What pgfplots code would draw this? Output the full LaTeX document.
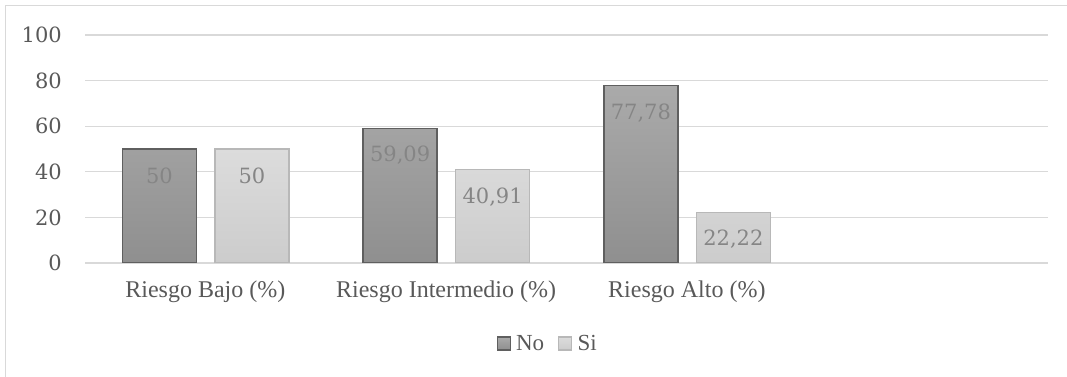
\documentclass[border=0pt]{standalone}
\usepackage{fontspec}
\setmainfont{Liberation Serif}
\newfontfamily\numfont{DejaVu Serif}
\usepackage{pgfplots}
\pgfplotsset{compat=1.18}
\definecolor{gridc}{HTML}{D9D9D9}
\definecolor{tickc}{HTML}{595959}
\definecolor{lblc}{HTML}{858585}
\definecolor{darktop}{HTML}{AAAAAA}
\definecolor{darkbot}{HTML}{8F8F8F}
\definecolor{darkedge}{HTML}{5F5F5F}
\definecolor{lighttop}{HTML}{DCDCDC}
\definecolor{lightbot}{HTML}{CCCCCC}
\definecolor{lightedge}{HTML}{B8B8B8}
\begin{document}
\begin{tikzpicture}
\draw[gridc, line width=1.2pt] (5.5pt,-10pt) rectangle (1080pt,371.5pt);
\begin{axis}[
  at={(85pt,114pt)}, anchor=south west,
  scale only axis, width=963pt, height=228pt,
  xmin=-0.5, xmax=3.5, ymin=0, ymax=100,
  xtick={0,1,2},
  xticklabels={Riesgo Bajo (\%), Riesgo Intermedio (\%), Riesgo Alto (\%)},
  ytick={0,20,40,60,80,100},
  axis line style={draw=none},
  major tick length=0pt,
  tick style={draw=none},
  ymajorgrids, major grid style={gridc, line width=1.3pt},
  xticklabel style={font=\fontsize{24}{27}\selectfont, text=tickc, anchor=base, yshift=-35pt},
  yticklabel style={font=\numfont\fontsize{21}{24}\selectfont, text=tickc, anchor=east, inner sep=0pt, xshift=-23pt},
  /pgf/number format/assume math mode=true,
  ybar, bar width=74pt,
  nodes near coords,
  point meta=y,
  nodes near coords style={font=\numfont\fontsize{21}{24}\selectfont, text=lblc, anchor=center, yshift=-27pt,
    /pgf/number format/.cd, use comma, assume math mode=true},
  legend columns=2,
  legend style={at={(axis description cs:0.4805,-0.355)}, anchor=center, draw=none, fill=none,
    font=\fontsize{23}{26}\selectfont, text=tickc, inner sep=0pt,
    /tikz/every even column/.append style={column sep=12pt}},
  legend image code/.code={\draw[#1, line width=1.3pt] (0pt,-6pt) rectangle (13pt,7pt); \path (16pt,0pt);},
]
\addplot[bar shift=-46pt, top color=darktop, bottom color=darkbot, draw=darkedge, line width=1.5pt]
  coordinates {(0,50) (1,59.09) (2,77.78)};
\addplot[bar shift=46.5pt, top color=lighttop, bottom color=lightbot, draw=lightedge, line width=1.5pt]
  coordinates {(0,50) (1,40.91) (2,22.22)};
\legend{No, Si}
\end{axis}
\pgfresetboundingbox
\path[use as bounding box] (0,0) rectangle (1067pt,377pt);
\end{tikzpicture}
\end{document}
